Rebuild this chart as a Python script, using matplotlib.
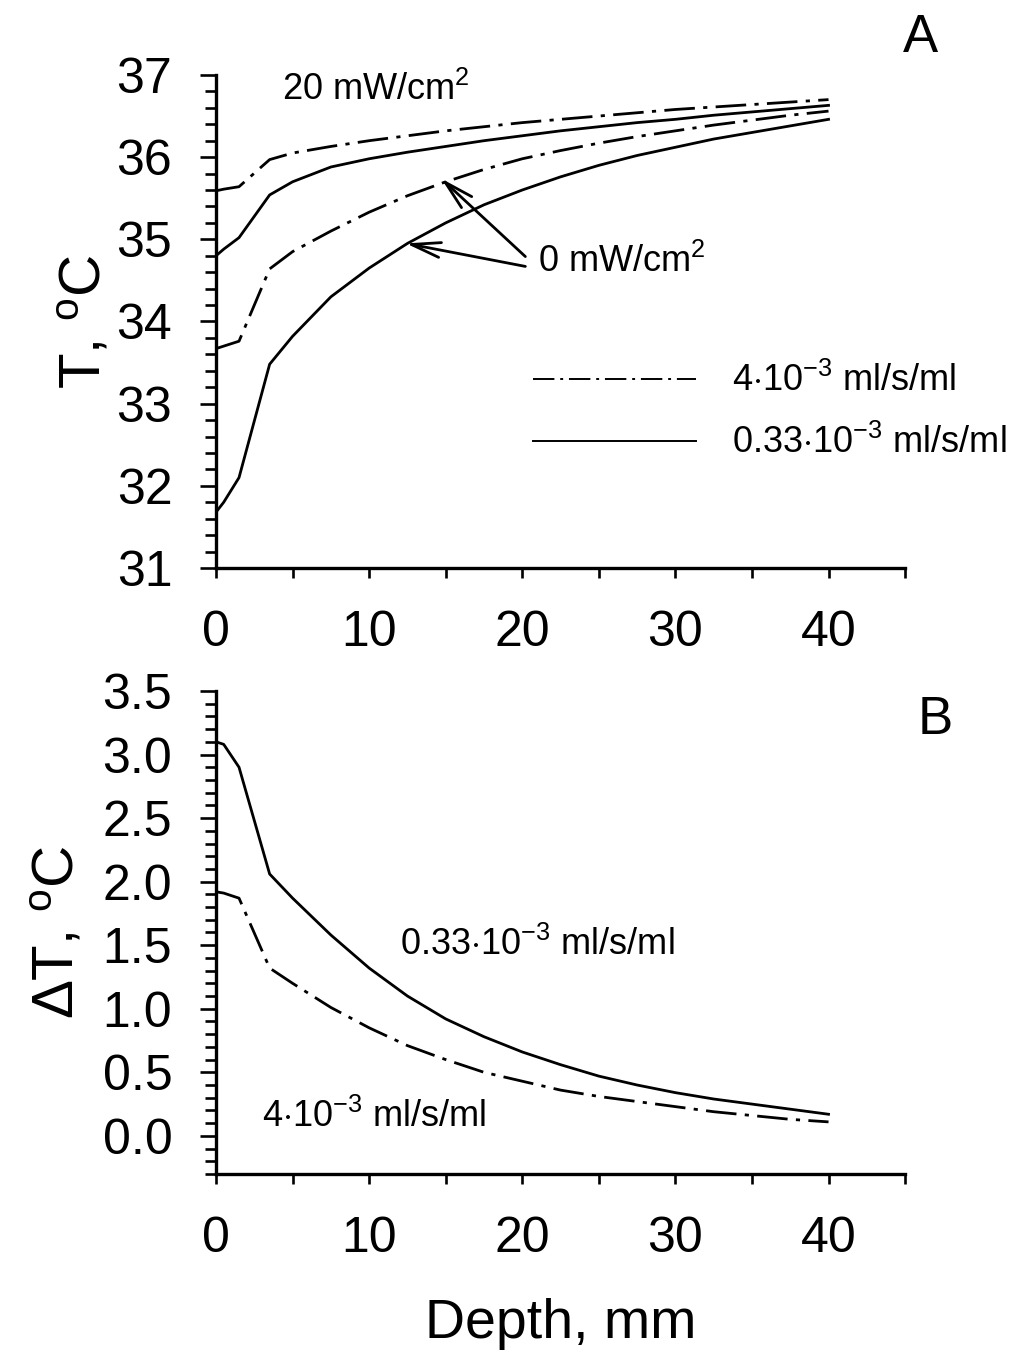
import matplotlib
matplotlib.use('Agg')
import matplotlib.pyplot as plt
from matplotlib.ticker import MultipleLocator

plt.rcParams['font.family'] = ['Liberation Sans', 'DejaVu Sans']
plt.rcParams['mathtext.fontset'] = 'custom'
plt.rcParams['mathtext.rm'] = 'Liberation Sans'
plt.rcParams['mathtext.it'] = 'Liberation Sans:italic'
plt.rcParams['mathtext.bf'] = 'Liberation Sans:bold'

# Depth, mm
depth = [0, 0.5, 1.5, 3.5, 5, 7.5, 10, 12.5, 15, 17.5, 20, 22.5, 25,
         27.5, 30, 32.5, 35, 37.5, 40]

# Panel A: temperature, C
t_20_fast = [35.59, 35.61, 35.64, 35.97, 36.05, 36.13, 36.2, 36.26, 36.32, 36.37,
             36.42, 36.46, 36.5, 36.54, 36.58, 36.61, 36.64, 36.67, 36.7]
t_20_slow = [34.8, 34.88, 35.02, 35.54, 35.7, 35.88, 35.98, 36.06, 36.13, 36.2,
             36.26, 36.32, 36.37, 36.42, 36.46, 36.51, 36.55, 36.59, 36.63]
t_0_fast = [33.67, 33.7, 33.76, 34.64, 34.85, 35.1, 35.33, 35.53, 35.7, 35.85,
            35.98, 36.08, 36.17, 36.25, 36.32, 36.39, 36.45, 36.51, 36.56]
t_0_slow = [31.68, 31.8, 32.1, 33.48, 33.82, 34.3, 34.65, 34.95, 35.2, 35.42,
            35.6, 35.76, 35.9, 36.02, 36.12, 36.22, 36.3, 36.38, 36.46]

# Panel B: temperature rise, C
dt_fast = [1.92, 1.91, 1.87, 1.32, 1.2, 1.01, 0.85, 0.71, 0.6, 0.5, 0.43,
           0.36, 0.31, 0.27, 0.23, 0.19, 0.16, 0.13, 0.11]
dt_slow = [3.1, 3.08, 2.9, 2.06, 1.87, 1.58, 1.32, 1.1, 0.92, 0.78, 0.66,
           0.56, 0.47, 0.4, 0.34, 0.29, 0.25, 0.21, 0.17]

lbl_fast = r'4$\cdot$10$^{-3}$ ml/s/ml'
lbl_slow = r'0.33$\cdot$10$^{-3}$ ml/s/ml'

dashdot = (11, 3, 1.5, 3)
lw = 2.0
txt_size = 26

fig = plt.figure(figsize=(10.22, 13.53), dpi=100)
axA = fig.add_axes([0.2114, 0.5802, 0.6742, 0.3644])
axB = fig.add_axes([0.2114, 0.1323, 0.6742, 0.3570])

for ax in (axA, axB):
    ax.spines['top'].set_visible(False)
    ax.spines['right'].set_visible(False)
    ax.spines['left'].set_linewidth(2.4)
    ax.spines['bottom'].set_linewidth(2.4)
    ax.set_xlim(0, 45)
    ax.xaxis.set_major_locator(MultipleLocator(10))
    ax.xaxis.set_minor_locator(MultipleLocator(5))
    ax.tick_params(axis='x', which='both', direction='out', length=7, width=1.9,
                   labelsize=36, pad=23)
    ax.tick_params(axis='y', which='major', direction='out', length=11.5, width=1.9,
                   labelsize=36, pad=20)
    ax.tick_params(axis='y', which='minor', direction='out', length=8, width=1.9)

# Panel A
la, = axA.plot(depth, t_20_fast, color='black', lw=lw, dashes=dashdot, label=lbl_fast)
ls, = axA.plot(depth, t_20_slow, color='black', lw=lw, label=lbl_slow)
axA.plot(depth, t_0_fast, color='black', lw=lw, dashes=dashdot)
axA.plot(depth, t_0_slow, color='black', lw=lw)
axA.set_ylim(31, 37)
axA.yaxis.set_major_locator(MultipleLocator(1))
axA.yaxis.set_minor_locator(MultipleLocator(0.2))
axA.set_ylabel(r'T, $^{\mathrm{o}}$C', fontsize=42)
axA.yaxis.set_label_coords(-0.15, 0.5)

axA.text(4.3, 36.82, r'20 mW/cm$^2$', fontsize=txt_size, ha='left', va='center')
axA.text(21.0, 34.72, r'0 mW/cm$^2$', fontsize=txt_size, ha='left', va='center')
arrow = dict(arrowstyle='->,head_length=0.7,head_width=0.18', lw=2.0,
             mutation_scale=30, shrinkA=0, shrinkB=0, color='black')
axA.annotate('', xy=(14.7, 35.74), xytext=(20.2, 34.79), arrowprops=arrow)
axA.annotate('', xy=(12.4, 34.95), xytext=(20.2, 34.67), arrowprops=arrow)

leg = axA.legend(handles=[la, ls], loc='center left', bbox_to_anchor=(0.46, 0.316),
                 frameon=False, fontsize=txt_size, handlelength=4.5, handletextpad=1.0,
                 labelspacing=0.72, borderpad=0, borderaxespad=0)
for h in leg.get_lines():
    h.set_linewidth(1.4)

# Panel B
axB.plot(depth, dt_fast, color='black', lw=lw, dashes=dashdot)
axB.plot(depth, dt_slow, color='black', lw=lw)
axB.set_ylim(-0.3, 3.5)
axB.set_yticks([0, 0.5, 1, 1.5, 2, 2.5, 3, 3.5])
axB.set_yticklabels(['0.0', '0.5', '1.0', '1.5', '2.0', '2.5', '3.0', '3.5'])
axB.yaxis.set_minor_locator(MultipleLocator(0.1))
axB.set_ylabel(r'$\Delta$T, $^{\mathrm{o}}$C', fontsize=42)
axB.yaxis.set_label_coords(-0.19, 0.5)
axB.set_xlabel('Depth, mm', fontsize=40, labelpad=26)

axB.text(12.0, 1.5, lbl_slow, fontsize=txt_size, ha='left', va='center')
axB.text(3.0, 0.15, lbl_fast, fontsize=txt_size, ha='left', va='center')

fig.text(920 / 1022, 1 - 38 / 1353, 'A', fontsize=38, ha='center', va='center')
fig.text(935 / 1022, 1 - 720 / 1353, 'B', fontsize=38, ha='center', va='center')

fig.savefig('out.png', dpi=100, facecolor='white')
